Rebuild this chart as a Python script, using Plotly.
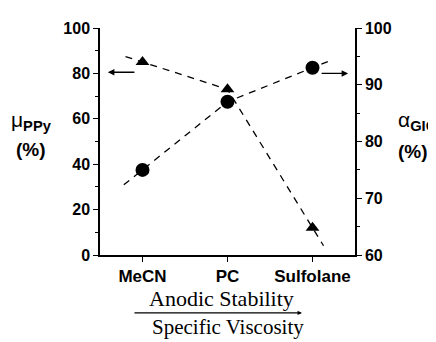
import plotly.graph_objects as go

categories = ["MeCN", "PC", "Sulfolane"]
mu_ppy = [85, 73, 12]        # left axis, triangles
alpha_gic = [75, 87, 93]     # right axis, circles
left_ticks = [0, 20, 40, 60, 80, 100]
right_ticks = [60, 70, 80, 90, 100]

xi = list(range(len(categories)))

def extend(xs, ys, a=0.2, b=0.15):
    x0 = xs[0] - a
    y0 = ys[0] - a * (ys[1] - ys[0]) / (xs[1] - xs[0])
    x1 = xs[-1] + b
    y1 = ys[-1] + b * (ys[-1] - ys[-2]) / (xs[-1] - xs[-2])
    return [x0] + list(xs) + [x1], [y0] + list(ys) + [y1]

tx, ty = extend(xi, mu_ppy, 0.2, 0.13)
cx, cy = extend(xi, alpha_gic, 0.22, 0.18)

fig = go.Figure()
dash = dict(color="black", width=1.3, dash="7px,6px")
fig.add_trace(go.Scatter(x=tx, y=ty, mode="lines", line=dash, yaxis="y", showlegend=False))
fig.add_trace(go.Scatter(x=cx, y=cy, mode="lines", line=dash, yaxis="y2", showlegend=False))
fig.add_trace(go.Scatter(x=xi, y=mu_ppy, mode="markers", yaxis="y",
                         marker=dict(symbol="triangle-up", size=12, color="black"), showlegend=False))
fig.add_trace(go.Scatter(x=xi, y=alpha_gic, mode="markers", yaxis="y2",
                         marker=dict(symbol="circle", size=14, color="black"), showlegend=False))

sans = "Liberation Sans, Arial"
serif = "Liberation Serif, Times New Roman"
tickfont = dict(family=sans, size=16, color="black", weight="bold")

fig.update_layout(
    width=428, height=334,
    margin=dict(l=92, r=81, t=16, b=87),
    paper_bgcolor="white", plot_bgcolor="white",
    xaxis=dict(range=[-0.5, 2.5], tickvals=xi, ticktext=categories,
               showline=True, linecolor="black", linewidth=1.5, ticks="outside",
               ticklen=5, tickcolor="black", showgrid=False, zeroline=False,
               tickfont=dict(family=sans, size=17, color="black", weight="bold")),
    yaxis=dict(range=[0, 100], tickvals=left_ticks, showline=True, linecolor="black",
               linewidth=1.5, ticks="outside", ticklen=5, tickcolor="black",
               showgrid=False, zeroline=False, tickfont=tickfont,
               minor=dict(dtick=10, ticks="outside", ticklen=3, tickcolor="black")),
    yaxis2=dict(range=[60, 100], tickvals=right_ticks, overlaying="y", side="right",
                showline=True, linecolor="black", linewidth=1.5, ticks="outside",
                ticklen=5, tickcolor="black", showgrid=False, zeroline=False,
                tickfont=tickfont,
                minor=dict(dtick=5, ticks="outside", ticklen=3, tickcolor="black")),
)

ann = []
# axis titles
ann.append(dict(xref="paper", yref="paper", x=-0.27, y=0.589, xanchor="center", yanchor="middle",
                text="μ<sub><b>PPy</b></sub>", showarrow=False,
                font=dict(family=sans, size=21, color="black")))
ann.append(dict(xref="paper", yref="paper", x=-0.27, y=0.463, xanchor="center", yanchor="middle",
                text="<b>(%)</b>", showarrow=False,
                font=dict(family=sans, size=19, color="black")))
ann.append(dict(xref="paper", yref="paper", x=1.16, y=0.589, xanchor="left", yanchor="middle",
                text="α<sub><b>GIC</b></sub>", showarrow=False,
                font=dict(family=sans, size=21, color="black")))
ann.append(dict(xref="paper", yref="paper", x=1.16, y=0.455, xanchor="left", yanchor="middle",
                text="<b>(%)</b>", showarrow=False,
                font=dict(family=sans, size=19, color="black")))
# arrows indicating axes
ann.append(dict(xref="paper", yref="paper", x=0.031, y=0.805, ax=28, ay=0, text="",
                showarrow=True, arrowhead=2, arrowsize=1, arrowwidth=1.3, arrowcolor="black"))
ann.append(dict(xref="paper", yref="paper", x=0.973, y=0.80, ax=-28, ay=0, text="",
                showarrow=True, arrowhead=2, arrowsize=1, arrowwidth=1.3, arrowcolor="black"))
# bottom labels
ann.append(dict(xref="paper", yref="paper", x=0.478, y=-0.192, xanchor="center", yanchor="middle",
                text="Anodic Stability", showarrow=False,
                font=dict(family=serif, size=22, color="black")))
ann.append(dict(xref="paper", yref="paper", x=0.792, y=-0.255, ax=-169, ay=0, text="",
                showarrow=True, arrowhead=2, arrowsize=0.8, arrowwidth=1.1, arrowcolor="black"))
ann.append(dict(xref="paper", yref="paper", x=0.502, y=-0.318, xanchor="center", yanchor="middle",
                text="Specific Viscosity", showarrow=False,
                font=dict(family=serif, size=21, color="black")))
fig.update_layout(annotations=ann)

fig.write_html("out.html")
